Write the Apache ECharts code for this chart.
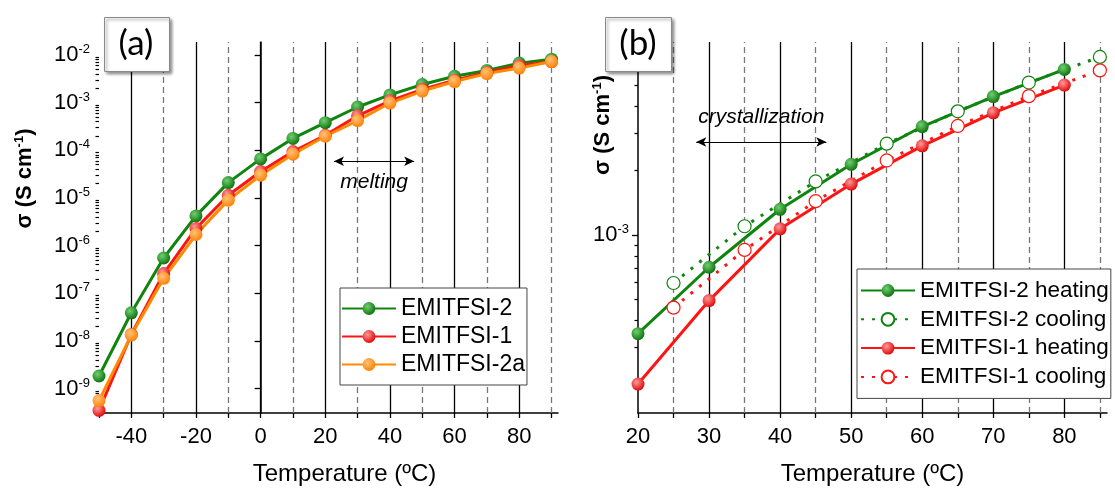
<!DOCTYPE html>
<html>
<head>
<meta charset="utf-8">
<script src="https://cdn.jsdelivr.net/npm/echarts@6/dist/echarts.min.js"></script>
<style>
  html, body { margin: 0; padding: 0; background: #fff; }
  #main { width: 1115px; height: 491px; }
</style>
</head>
<body>
<div id="main"></div>
<script>
// (a) conductivity vs temperature
var tempA = [-50, -40, -30, -20, -10, 0, 10, 20, 30, 40, 50, 60, 70, 80, 90];
var emi2 = [1.84e-9, 3.9e-8, 5.5e-7, 4.2e-6, 2.1e-5, 6.6e-5, 1.77e-4, 3.8e-4, 8.1e-4, 1.45e-3, 2.4e-3, 3.57e-3, 4.74e-3, 6.74e-3, 8.15e-3];
var emi1 = [3.5e-10, 1.37e-8, 2.6e-7, 2.3e-6, 1.14e-5, 3.6e-5, 9.4e-5, 2.07e-4, 5.3e-4, 1.09e-3, 1.9e-3, 2.95e-3, 4.31e-3, 5.93e-3, 7.27e-3];
var emi2a = [5.6e-10, 1.33e-8, 2.06e-7, 1.71e-6, 9.0e-6, 3.0e-5, 8.3e-5, 1.97e-4, 4.2e-4, 9.8e-4, 1.75e-3, 2.77e-3, 4.06e-3, 5.3e-3, 7.27e-3];

// (b) heating and cooling runs
var tempHeat = [20, 30, 40, 50, 60, 70, 80];
var tempCool = [25, 35, 45, 55, 65, 75, 85];
var emi2Heat = [3.47e-4, 7.08e-4, 1.32e-3, 2.14e-3, 3.21e-3, 4.43e-3, 5.93e-3];
var emi2Cool = [5.98e-4, 1.10e-3, 1.78e-3, 2.67e-3, 3.78e-3, 5.15e-3, 6.78e-3];
var emi1Heat = [2.02e-4, 4.95e-4, 1.07e-3, 1.73e-3, 2.61e-3, 3.72e-3, 5.01e-3];
var emi1Cool = [4.59e-4, 8.53e-4, 1.44e-3, 2.23e-3, 3.23e-3, 4.45e-3, 5.87e-3];

// ticks and labels
var labelsA = [-40, -20, 0, 20, 40, 60, 80];
var ticksA = [-50, -40, -30, -20, -10, 0, 10, 20, 30, 40, 50, 60, 70, 80, 90];
var dashA = [-30, -10, 10, 30, 50, 70, 90];
var labelsB = [20, 30, 40, 50, 60, 70, 80];
var ticksB = [20, 25, 30, 35, 40, 45, 50, 55, 60, 65, 70, 75, 80, 85];
var solidB = [30, 40, 50, 60, 70, 80];
var dashB = [25, 35, 45, 55, 65, 75, 85];
var decadesA = [1e-9, 1e-8, 1e-7, 1e-6, 1e-5, 1e-4, 1e-3, 1e-2];
var decadesB = [1e-3];

function minorLog(decs) {
    var out = [];
    decs.forEach(function (d) {
        for (var k = 2; k <= 9; k++) out.push(k * d);
    });
    return out;
}
var minorA = minorLog([1e-10, 1e-9, 1e-8, 1e-7, 1e-6, 1e-5, 1e-4, 1e-3, 1e-2]);
var minorB = minorLog([1e-4, 1e-3]);

function zip(xs, ys) {
    return xs.map(function (x, i) { return [x, ys[i]]; });
}
function ball(light, dark) {
    return {
        type: 'radial', x: 0.38, y: 0.35, r: 0.7,
        colorStops: [{ offset: 0, color: light }, { offset: 1, color: dark }]
    };
}

var GREEN = '#0f840f', RED = '#ff1414', ORANGE = '#ff8a00';
var FONT = 'Liberation Sans';

var supRich = {
    b: { fontSize: 22, lineHeight: 24, color: '#000', fontFamily: FONT },
    s: { fontSize: 13, lineHeight: 13, verticalAlign: 'top', color: '#000', fontFamily: FONT }
};
var nameRich = {
    n: { fontSize: 22, fontWeight: 'bold', lineHeight: 24, color: '#000', fontFamily: FONT },
    s: { fontSize: 13, fontWeight: 'bold', lineHeight: 13, verticalAlign: 'top', color: '#000', fontFamily: FONT }
};
function expLabel(v) {
    return '{b|10}{s|' + Math.round(Math.log10(v)) + '}';
}

var solidLine = { color: '#000', width: 1.3, type: 'solid' };
var dashLine = { color: '#777', width: 1.3, type: [6, 4] };

function xAxisCfg(idx, min, max, ticks, labels, nameShift) {
    return {
        type: 'value', gridIndex: idx, min: min, max: max,
        axisLine: { show: true, onZero: false, lineStyle: { color: '#000', width: 1.5 } },
        axisTick: { show: true, customValues: ticks, length: 5, lineStyle: { color: '#000', width: 1.3 } },
        axisLabel: { customValues: labels, fontSize: 22, color: '#000', margin: 13, fontFamily: FONT },
        splitLine: { show: false },
        name: 'Temperature (ºC)', nameLocation: 'middle', nameGap: 49,
        nameTextStyle: { fontSize: 24, color: '#000', fontFamily: FONT, padding: [0, 0, 0, nameShift] }
    };
}
function yAxisMajor(idx, min, max, decs, namePad, nameGap) {
    return {
        type: 'log', logBase: 10, gridIndex: idx, min: min, max: max, position: 'left',
        axisLine: { show: true, lineStyle: { color: '#000', width: 1.5 } },
        axisTick: { show: true, customValues: decs, length: 6, lineStyle: { color: '#000', width: 1.3 } },
        axisLabel: { customValues: decs, formatter: expLabel, rich: supRich, margin: 9 },
        splitLine: { show: false },
        name: '{n|σ (S cm}{s|-1}{n|)}', nameLocation: 'middle', nameGap: nameGap,
        nameMoveOverlap: false,
        nameTextStyle: { rich: nameRich, padding: [0, 0, 0, namePad] }
    };
}
function yAxisMinor(idx, min, max, minors) {
    return {
        type: 'log', logBase: 10, gridIndex: idx, min: min, max: max, position: 'left',
        axisLine: { show: false },
        axisTick: { show: true, customValues: minors, length: 3.5, lineStyle: { color: '#000', width: 1.2 } },
        axisLabel: { show: false },
        splitLine: { show: false }
    };
}

function gridSeries(xi, yi, solids, dashes) {
    var data = solids.map(function (v) { return { xAxis: v, lineStyle: solidLine }; })
        .concat(dashes.map(function (v) { return { xAxis: v, lineStyle: dashLine }; }));
    return {
        type: 'line', xAxisIndex: xi, yAxisIndex: yi, data: [], silent: true, z: 1,
        markLine: { z: 1, silent: true, symbol: ['none', 'none'], label: { show: false }, data: data }
    };
}

function arrowSeries(xi, yi, x1, x2, y, text, pos, dist) {
    return {
        type: 'line', xAxisIndex: xi, yAxisIndex: yi, data: [], silent: true,
        markLine: {
            silent: true, symbol: ['arrow', 'arrow'], symbolSize: [7, 10],
            lineStyle: { color: '#000', width: 1.2, type: 'solid' },
            label: {
                show: true, position: pos, distance: dist, formatter: text,
                fontSize: 21, fontStyle: 'italic', color: '#000', fontFamily: FONT
            },
            data: [[{ coord: [x1, y] }, { coord: [x2, y] }]]
        }
    };
}

function filled(name, xi, yi, pts, color, light, dark, size) {
    return {
        name: name, type: 'line', xAxisIndex: xi, yAxisIndex: yi, data: pts,
        symbol: 'circle', symbolSize: size, showAllSymbol: true,
        lineStyle: { color: color, width: 3 },
        itemStyle: { color: ball(light, dark), borderWidth: 0 }
    };
}
function open(name, xi, yi, pts, color, size) {
    return {
        name: name, type: 'line', xAxisIndex: xi, yAxisIndex: yi, data: pts,
        symbol: 'circle', symbolSize: size, showAllSymbol: true,
        lineStyle: { color: color, width: 3, type: [3, 8] },
        itemStyle: { color: '#fff', borderColor: color, borderWidth: 1.2 }
    };
}

var myChart = echarts.init(document.getElementById('main'));

var option = {
    animation: false,
    backgroundColor: '#fff',
    textStyle: { fontFamily: FONT, color: '#000' },
    grid: [
        { left: 99, top: 42, width: 459, height: 377, containLabel: false },
        { left: 638, top: 42, width: 469, height: 378, containLabel: false }
    ],
    xAxis: [
        xAxisCfg(0, -50, 92, ticksA, labelsA, 32),
        xAxisCfg(1, 20, 86, ticksB, labelsB, 0)
    ],
    yAxis: [
        yAxisMajor(0, 3.08e-10, 0.0187, decadesA, 98, 62),
        yAxisMinor(0, 3.08e-10, 0.0187, minorA),
        yAxisMajor(1, 1.48e-4, 7.96e-3, decadesB, 205, 23),
        yAxisMinor(1, 1.48e-4, 7.96e-3, minorB)
    ],
    legend: [
        {
            orient: 'vertical', left: 340, top: 288,
            data: ['EMITFSI-2', 'EMITFSI-1', 'EMITFSI-2a'],
            itemWidth: 54, itemHeight: 16, itemGap: 5,
            padding: [9, 2, 9, 1], borderColor: '#444', borderWidth: 1, backgroundColor: '#fff',
            textStyle: { fontSize: 23, lineHeight: 22, color: '#000', fontFamily: FONT }
        },
        {
            orient: 'vertical', left: 857, top: 269,
            data: ['EMITFSI-2 heating', 'EMITFSI-2 cooling', 'EMITFSI-1 heating', 'EMITFSI-1 cooling'],
            itemWidth: 54, itemHeight: 16, itemGap: 5.8,
            padding: [10, 2, 10, 3], borderColor: '#444', borderWidth: 1, backgroundColor: '#fff',
            textStyle: { fontSize: 22.5, lineHeight: 22, color: '#000', fontFamily: FONT }
        }
    ],
    graphic: [
        {
            type: 'rect', left: 104, top: 17, z: 100,
            shape: { width: 65, height: 54 },
            style: { fill: '#fff', stroke: '#8a8a8a', lineWidth: 1, shadowBlur: 3, shadowOffsetX: 2, shadowOffsetY: 2, shadowColor: 'rgba(0,0,0,0.45)' }
        },
        {
            type: 'text', x: 136, y: 44, z: 101,
            style: { text: '(a)', fontSize: 35, fontFamily: 'Lato', fill: '#000', align: 'center', verticalAlign: 'middle' }
        },
        {
            type: 'rect', left: 605, top: 17, z: 100,
            shape: { width: 66, height: 54 },
            style: { fill: '#fff', stroke: '#8a8a8a', lineWidth: 1, shadowBlur: 3, shadowOffsetX: 2, shadowOffsetY: 2, shadowColor: 'rgba(0,0,0,0.45)' }
        },
        {
            type: 'text', x: 638, y: 44, z: 101,
            style: { text: '(b)', fontSize: 35, fontFamily: 'Lato', fill: '#000', align: 'center', verticalAlign: 'middle' }
        }
    ],
    series: [
        gridSeries(0, 0, labelsA, dashA),
        gridSeries(1, 2, solidB, dashB),
        arrowSeries(0, 0, 22.7, 47.5, 5.9e-5, 'melting', 'insideMiddleBottom', 10),
        arrowSeries(1, 2, 28.2, 46.5, 2.72e-3, 'crystallization', 'insideMiddleTop', 14),

        filled('EMITFSI-2', 0, 0, zip(tempA, emi2), GREEN, '#6fd06f', '#0a6e0a', 13),
        filled('EMITFSI-1', 0, 0, zip(tempA, emi1), RED, '#ff9a9a', '#e00000', 13),
        filled('EMITFSI-2a', 0, 0, zip(tempA, emi2a), ORANGE, '#ffc27a', '#ff7f00', 13),

        filled('EMITFSI-2 heating', 1, 2, zip(tempHeat, emi2Heat), GREEN, '#6fd06f', '#0a6e0a', 13),
        open('EMITFSI-2 cooling', 1, 2, zip(tempCool, emi2Cool), GREEN, 13),
        filled('EMITFSI-1 heating', 1, 2, zip(tempHeat, emi1Heat), RED, '#ff9a9a', '#e00000', 13),
        open('EMITFSI-1 cooling', 1, 2, zip(tempCool, emi1Cool), RED, 13)
    ]
};

myChart.setOption(option);
</script>
</body>
</html>
